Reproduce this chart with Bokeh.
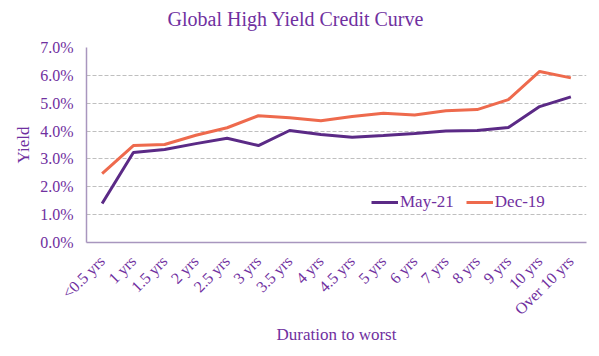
from bokeh.plotting import figure
from bokeh.models import Range1d, FactorRange, Title, Legend, LegendItem, FixedTicker
from bokeh.embed import file_html
from bokeh.resources import INLINE

categories = ["<0.5 yrs", "1 yrs", "1.5 yrs", "2 yrs", "2.5 yrs", "3 yrs", "3.5 yrs", "4 yrs",
              "4.5 yrs", "5 yrs", "6 yrs", "7 yrs", "8 yrs", "9 yrs", "10 yrs", "Over 10 yrs"]
may21 = [1.40, 3.23, 3.34, 3.55, 3.74, 3.48, 4.02, 3.88, 3.78, 3.84, 3.91, 4.00, 4.02, 4.13, 4.88, 5.23]
dec19 = [2.47, 3.48, 3.52, 3.85, 4.12, 4.55, 4.48, 4.37, 4.52, 4.64, 4.58, 4.73, 4.77, 5.13, 6.14, 5.91]
y_ticks = [0, 1, 2, 3, 4, 5, 6, 7]
y_tick_labels = ["0.0%", "1.0%", "2.0%", "3.0%", "4.0%", "5.0%", "6.0%", "7.0%"]

FONT = "Liberation Serif"
TXT = "#7030A0"
PURPLE = "#5B2A86"
ORANGE = "#EE6A4D"

p = figure(frame_width=500, frame_height=195, x_range=FactorRange(*categories), y_range=Range1d(0, 7),
           output_backend="svg", toolbar_location=None,
           min_border_left=86, min_border_right=4, min_border_top=46, min_border_bottom=95)
p.outline_line_color = None
p.xgrid.grid_line_color = None
p.ygrid.grid_line_color = "#BFBFBF"
p.ygrid.grid_line_dash = "4 2"
p.ygrid.grid_line_width = 1

p.yaxis.ticker = FixedTicker(ticks=y_ticks)
p.yaxis.major_label_overrides = {t: l for t, l in zip(y_ticks, y_tick_labels)}
for ax in (p.xaxis, p.yaxis):
    ax.axis_line_color = "#A896BE"
    ax.axis_line_width = 1.5
    ax.major_tick_line_color = None
    ax.minor_tick_line_color = None
    ax.major_tick_out = 0
    ax.major_label_text_font = FONT
    ax.major_label_text_font_size = "16px"
    ax.major_label_text_color = TXT
    ax.axis_label_text_font = FONT
    ax.axis_label_text_font_size = "17px"
    ax.axis_label_text_font_style = "normal"
    ax.axis_label_text_color = TXT
p.yaxis.major_label_standoff = 13
p.yaxis.axis_label = "Yield"
p.yaxis.axis_label_standoff = 4
p.xaxis.major_label_orientation = 0.785
p.xaxis.major_label_standoff = 16
p.xaxis.axis_label = "Duration to worst"
p.xaxis.axis_label_standoff = -2
p.xaxis.group_text_font_size = "0px"

r1 = p.line(categories, may21, line_color=PURPLE, line_width=3)
r2 = p.line(categories, dec19, line_color=ORANGE, line_width=3)

legend = Legend(items=[LegendItem(label="May-21", renderers=[r1]),
                       LegendItem(label="Dec-19", renderers=[r2])],
                orientation="horizontal", location=(285, 30),
                label_text_font=FONT, label_text_font_size="17px", label_text_color=TXT,
                glyph_width=27, glyph_height=16, label_standoff=2, spacing=12,
                padding=0, margin=0, border_line_color=None, background_fill_alpha=0)
p.add_layout(legend)

# empty spacer between the title and the plot frame
p.add_layout(Title(text=" ", standoff=0, text_font=FONT, text_font_size="10px"), "above")
p.add_layout(Title(text="Global High Yield Credit Curve", align="left", offset=81, standoff=10,
                   text_font=FONT, text_font_size="20px", text_font_style="normal",
                   text_color=TXT), "above")

open("out.html", "w").write(file_html(p, INLINE))
